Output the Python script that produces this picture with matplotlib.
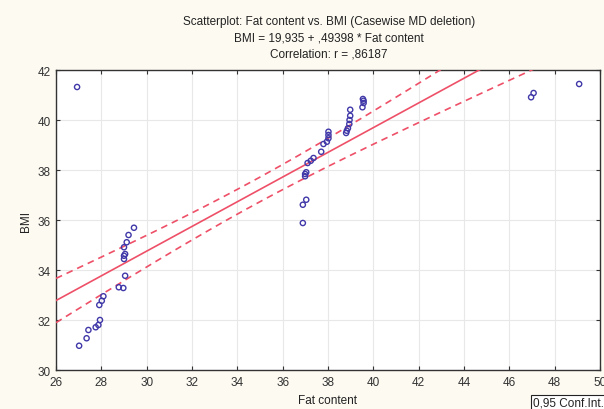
import matplotlib
matplotlib.use("Agg")
import matplotlib.pyplot as plt
import numpy as np

# Fat content (x) and BMI (y), read from the scatterplot
fat = [26.93,
       27.02, 27.35, 27.43, 27.75, 27.87, 27.94, 27.91, 28.02, 28.09,
       28.77, 28.97, 29.05, 29.00, 29.00, 29.05, 29.00, 29.12, 29.20, 29.44,
       36.89, 36.89, 37.04, 36.99, 36.99, 37.04, 37.10, 37.24, 37.36,
       37.70, 37.80, 37.95, 38.02, 38.02, 38.02,
       38.80, 38.83, 38.88, 38.94, 38.95, 38.98, 38.98,
       39.52, 39.57, 39.57, 39.54,
       46.96, 47.07, 49.08]
bmi = [41.32,
       30.97, 31.27, 31.60, 31.71, 31.80, 32.00, 32.60, 32.77, 32.95,
       33.31, 33.28, 33.77, 34.44, 34.57, 34.64, 34.91, 35.11, 35.40, 35.69,
       35.88, 36.61, 36.81, 37.75, 37.84, 37.91, 38.28, 38.37, 38.48,
       38.73, 39.04, 39.13, 39.27, 39.40, 39.53,
       39.48, 39.57, 39.67, 39.84, 40.00, 40.17, 40.41,
       40.51, 40.68, 40.77, 40.84,
       40.91, 41.08, 41.44]

# regression reported in the title
intercept = 19.935
slope = 0.49398
r_value = ",86187"

x_ticks = list(range(26, 51, 2))
y_ticks = list(range(30, 43, 2))

bg = "#fdfaf2"
red = "#ee5068"
navy = "#4038a8"
font = ["Liberation Sans", "DejaVu Sans"]

x = np.array(fat)
y = np.array(bmi)
n = len(x)

# 95% confidence band for the mean response
resid = y - (intercept + slope * x)
s = np.sqrt(np.sum(resid ** 2) / (n - 2))
t_val = 2.012
xs = np.linspace(26, 50, 200)
fit = intercept + slope * xs
half = t_val * s * np.sqrt(1.0 / n + (xs - x.mean()) ** 2 / np.sum((x - x.mean()) ** 2))

fig = plt.figure(figsize=(6.04, 4.10), dpi=100, facecolor=bg)
ax = fig.add_axes([56 / 604, 1 - 371 / 410, 544 / 604, 300 / 410])
ax.set_facecolor("white")

ax.plot(xs, fit, color=red, lw=1.2, zorder=3)
ax.plot(xs, fit + half, color=red, lw=1.2, ls=(0, (4, 3)), zorder=3)
ax.plot(xs, fit - half, color=red, lw=1.2, ls=(0, (4, 3)), zorder=3)
ax.scatter(x, y, s=14, facecolors="none", edgecolors=navy, linewidths=1.0, zorder=4)

ax.set_xlim(26, 50)
ax.set_ylim(30, 42)
ax.set_xticks(x_ticks)
ax.set_yticks(y_ticks)
ax.grid(True, color="#e8e8e8", lw=0.8)
ax.set_axisbelow(True)
for sp in ax.spines.values():
    sp.set_color("#333333")
    sp.set_linewidth(1.0)
ax.tick_params(direction="in", length=3, width=0.8, colors="#333333",
               labelsize=8.5, top=True, right=True, pad=4)
for lab in ax.get_xticklabels() + ax.get_yticklabels():
    lab.set_family(font)

ax.set_xlabel("Fat content", fontsize=8.5, family=font, color="#222222", labelpad=5)
ax.set_ylabel("BMI", fontsize=8.5, family=font, color="#222222", labelpad=4)

title = ("Scatterplot: Fat content vs. BMI (Casewise MD deletion)\n"
         f"BMI = 19,935 + ,49398 * Fat content\n"
         f"Correlation: r = {r_value}")
fig.text(0.545, 1 - 16 / 410, title, ha="center", va="top", fontsize=8.5,
         family=font, color="#222222", linespacing=1.45)

fig.text(533 / 604, 1 - 404 / 410, "0,95 Conf.Int.", ha="left", va="center",
         fontsize=8.5, family=font, color="#222222",
         bbox=dict(boxstyle="square,pad=0.2", facecolor="white", edgecolor="#222222", lw=0.8))

fig.savefig("out.png", dpi=100, facecolor=bg)
